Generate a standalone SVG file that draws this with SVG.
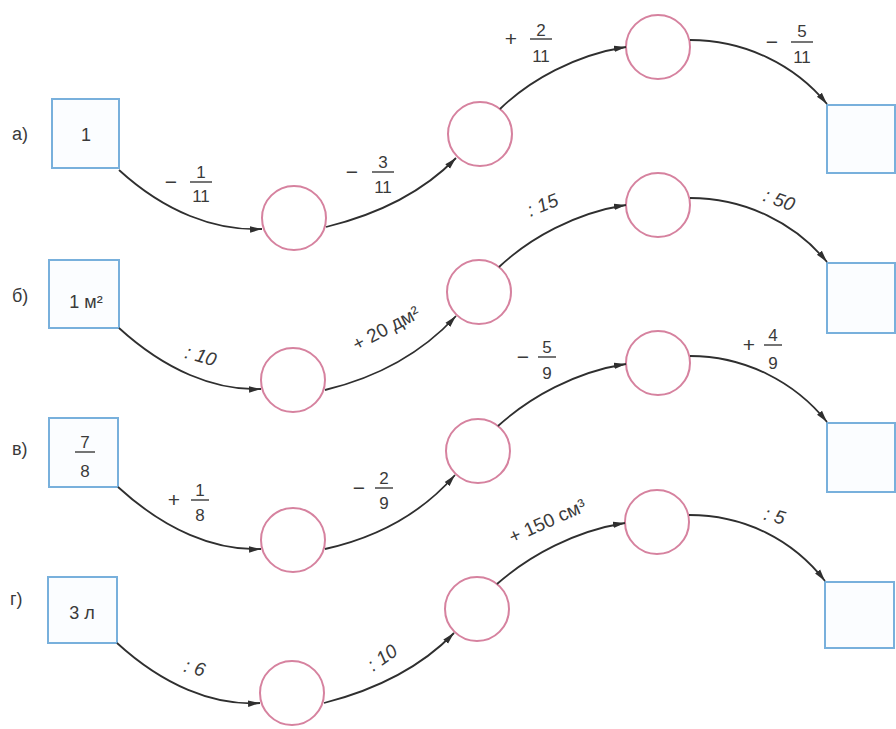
<svg xmlns="http://www.w3.org/2000/svg" width="896" height="729" viewBox="0 0 896 729">
<defs>
<marker id="arr" viewBox="0 0 12 8" refX="12" refY="4" markerWidth="12" markerHeight="8" markerUnits="userSpaceOnUse" orient="auto">
<path d="M0,0.8 L12,4 L0,7.2 Z" fill="#2f2f2f"/>
</marker>
<style>
.box{fill:#fbfdff;stroke:#78b0dc;stroke-width:2}
.cir{fill:#fff;stroke:#d6829f;stroke-width:2}
.con{fill:none;stroke:#2f2f2f;stroke-width:1.8;marker-end:url(#arr)}
text{font-family:"Liberation Sans","DejaVu Sans",sans-serif;fill:#3a3a3a}
.t{font-size:18px;text-anchor:middle}
.f{font-size:17px;text-anchor:middle}
.o{font-size:21px;text-anchor:middle}
.r{font-size:18px}
.d{font-size:19px;font-style:italic;text-anchor:middle}
.u{font-size:19px;text-anchor:middle}
.fl{stroke:#3a3a3a;stroke-width:1.4}
</style>
</defs>
<rect width="896" height="729" fill="#fff"/>

<g id="row-labels">
<text class="r" x="12" y="140">а)</text>
<text class="r" x="12" y="302">б)</text>
<text class="r" x="12" y="455">в)</text>
<text class="r" x="10" y="605">г)</text>
</g>

<g id="a-start"><rect class="box" x="52" y="99" width="67" height="69"/><text class="t" x="86" y="141">1</text></g>
<g id="a-c1"><circle class="cir" cx="294" cy="218" r="32"/></g>
<g id="a-c2"><circle class="cir" cx="480" cy="134" r="32"/></g>
<g id="a-c3"><circle class="cir" cx="658" cy="47" r="32"/></g>
<g id="a-end"><rect class="box" x="827" y="105" width="68" height="68"/></g>

<g id="b-start"><rect class="box" x="49" y="260" width="70" height="68"/><text class="t" x="86" y="308">1 м²</text></g>
<g id="b-c1"><circle class="cir" cx="293" cy="380" r="32"/></g>
<g id="b-c2"><circle class="cir" cx="479" cy="292" r="32"/></g>
<g id="b-c3"><circle class="cir" cx="658" cy="205" r="32"/></g>
<g id="b-end"><rect class="box" x="827" y="263" width="68" height="70"/></g>

<g id="v-start"><rect class="box" x="49" y="418" width="69" height="69"/>
<text class="f" x="85" y="448">7</text><line class="fl" x1="75" y1="452" x2="95" y2="452"/><text class="f" x="85" y="477">8</text></g>
<g id="v-c1"><circle class="cir" cx="293" cy="540" r="32"/></g>
<g id="v-c2"><circle class="cir" cx="478" cy="451" r="32"/></g>
<g id="v-c3"><circle class="cir" cx="658" cy="363" r="32"/></g>
<g id="v-end"><rect class="box" x="827" y="423" width="68" height="69"/></g>

<g id="g-start"><rect class="box" x="48" y="577" width="69" height="66"/><text class="t" x="82" y="619">3 л</text></g>
<g id="g-c1"><circle class="cir" cx="292" cy="693" r="32"/></g>
<g id="g-c2"><circle class="cir" cx="477" cy="609" r="32"/></g>
<g id="g-c3"><circle class="cir" cx="657" cy="522" r="32"/></g>
<g id="g-end"><rect class="box" x="825" y="582" width="69" height="66"/></g>

<g id="connectors">
<path class="con" d="M119,170 C165,212 215,231 262,229"/>
<path class="con" d="M326,227 C375,215 420,195 456,158"/>
<path class="con" d="M500,109 C530,80 575,55 626,47"/>
<path class="con" d="M690,40 C745,40 795,65 827,104"/>

<path class="con" d="M119,328 C165,370 215,391 261,389"/>
<path class="con" d="M325,390 C375,378 420,355 456,316"/>
<path class="con" d="M499,267 C530,238 575,213 626,205"/>
<path class="con" d="M690,198 C745,198 795,223 827,262"/>

<path class="con" d="M118,487 C165,530 215,551 261,549"/>
<path class="con" d="M325,549 C375,538 420,515 455,475"/>
<path class="con" d="M498,426 C530,397 575,372 626,364"/>
<path class="con" d="M690,356 C745,356 795,382 827,422"/>

<path class="con" d="M117,643 C163,685 213,706 260,703"/>
<path class="con" d="M324,703 C375,690 420,668 454,633"/>
<path class="con" d="M497,584 C530,555 575,531 625,523"/>
<path class="con" d="M689,515 C745,515 793,540 825,581"/>
</g>

<g id="edge-labels">
<text class="o" x="171" y="189">−</text><text class="f" x="201" y="178">1</text><line class="fl" x1="190" y1="182" x2="212" y2="182"/><text class="f" x="201" y="202">11</text>
<text class="o" x="352" y="179">−</text><text class="f" x="383" y="168">3</text><line class="fl" x1="372" y1="172" x2="394" y2="172"/><text class="f" x="383" y="193">11</text>
<text class="o" x="511" y="46">+</text><text class="f" x="541" y="36">2</text><line class="fl" x1="530" y1="39" x2="552" y2="39"/><text class="f" x="541" y="62">11</text>
<text class="o" x="772" y="49">−</text><text class="f" x="802" y="37">5</text><line class="fl" x1="791" y1="42" x2="813" y2="42"/><text class="f" x="802" y="63">11</text>

<text class="d" transform="translate(199,362) rotate(16)">: 10</text>
<text class="u" transform="translate(389,334) rotate(-28)">+ 20 дм²</text>
<text class="d" transform="translate(545,211) rotate(-22)">: 15</text>
<text class="d" transform="translate(777,206) rotate(20)">: 50</text>

<text class="o" x="174" y="507">+</text><text class="f" x="200" y="496">1</text><line class="fl" x1="191" y1="500" x2="209" y2="500"/><text class="f" x="200" y="521">8</text>
<text class="o" x="359" y="495">−</text><text class="f" x="384" y="484">2</text><line class="fl" x1="375" y1="488" x2="393" y2="488"/><text class="f" x="384" y="509">9</text>
<text class="o" x="523" y="364">−</text><text class="f" x="547" y="353">5</text><line class="fl" x1="538" y1="357" x2="556" y2="357"/><text class="f" x="547" y="379">9</text>
<text class="o" x="749" y="352">+</text><text class="f" x="773" y="341">4</text><line class="fl" x1="764" y1="345" x2="782" y2="345"/><text class="f" x="773" y="369">9</text>

<text class="d" transform="translate(193,674) rotate(15)">: 6</text>
<text class="d" transform="translate(386,663) rotate(-35)">: 10</text>
<text class="u" transform="translate(550,527) rotate(-24)">+ 150 см³</text>
<text class="d" transform="translate(773,522) rotate(15)">: 5</text>
</g>
</svg>
